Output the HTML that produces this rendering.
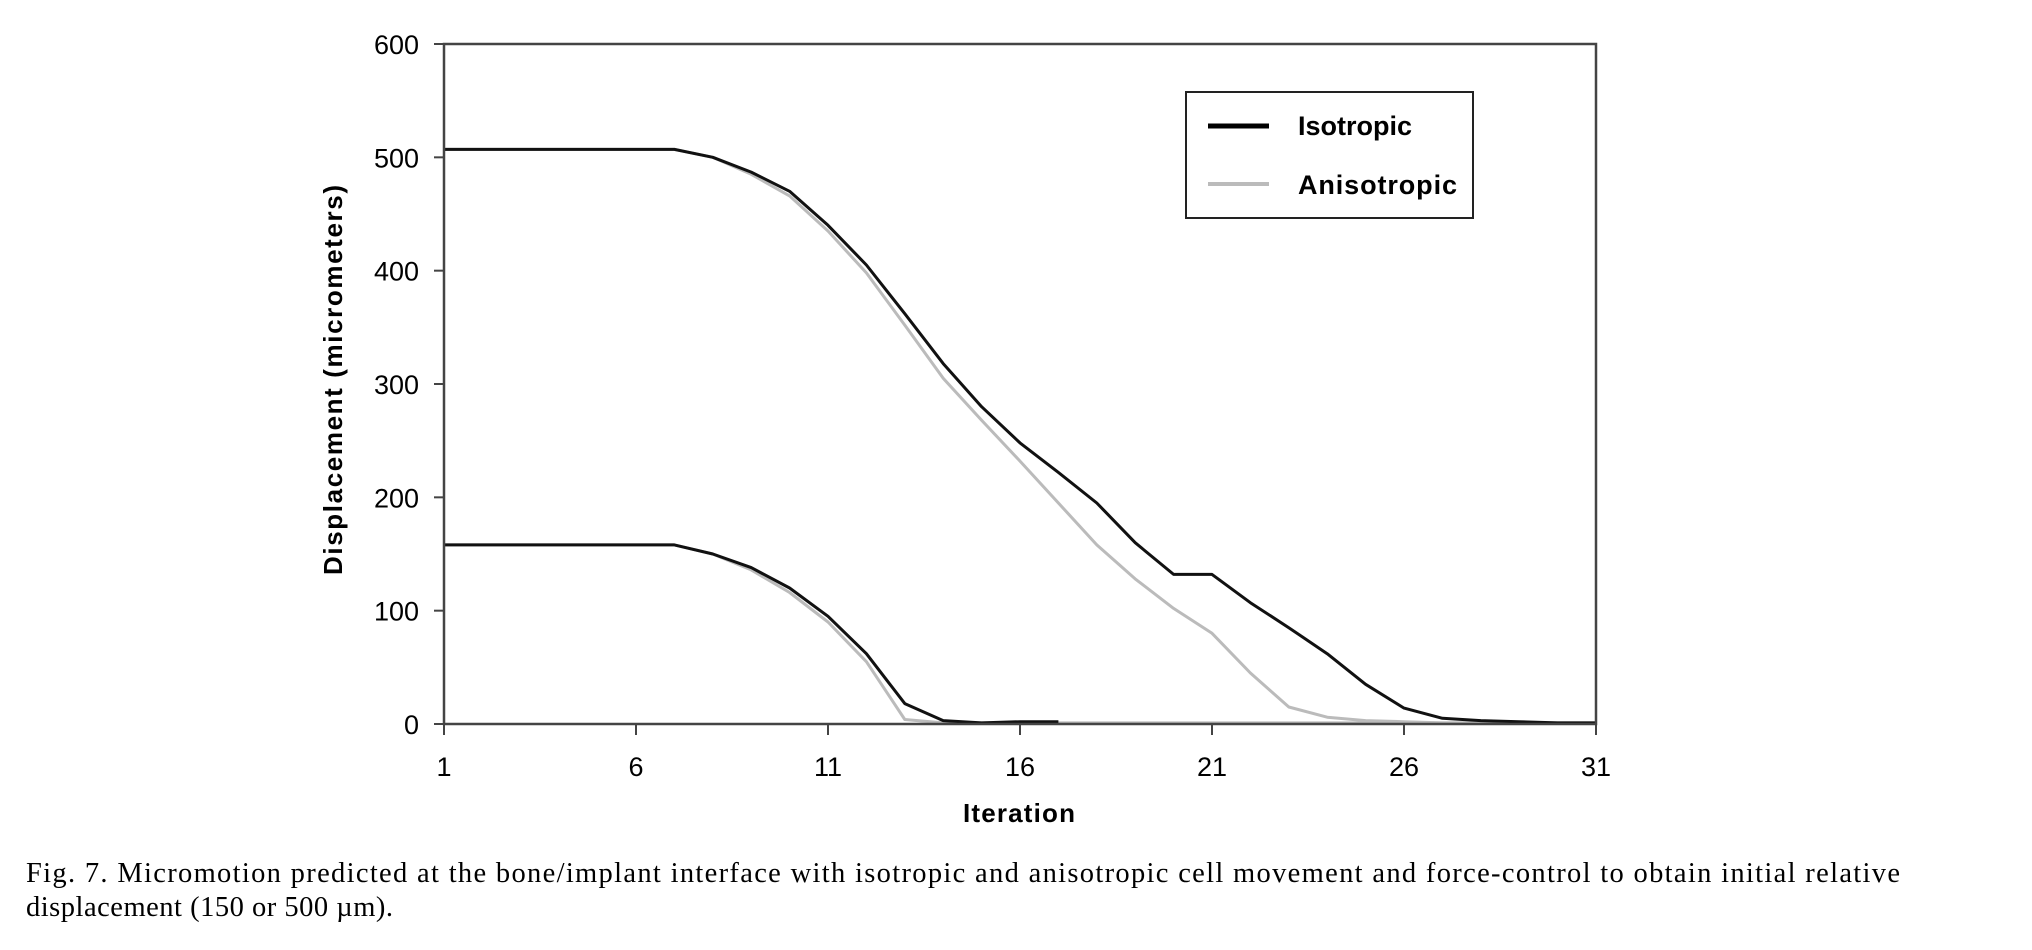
<!DOCTYPE html>
<html><head><meta charset="utf-8"><style>
html,body{margin:0;padding:0;background:#fff;}
svg{display:block;}
</style></head><body>
<svg id="chart" width="2032" height="950" viewBox="0 0 2032 950" xmlns="http://www.w3.org/2000/svg">
<g id="marks"></g>
<g>
<rect x="1186" y="92" width="287" height="126" fill="#fff" stroke="#222" stroke-width="2"/>
<line x1="1208" y1="126" x2="1269" y2="126" stroke="#000" stroke-width="5"/>
<text x="1298" y="135" font-family="Liberation Sans, sans-serif" font-weight="bold" font-size="27">Isotropic</text>
<line x1="1208" y1="184" x2="1269" y2="184" stroke="#bbb" stroke-width="4"/>
<text x="1298" y="194" font-family="Liberation Sans, sans-serif" font-weight="bold" font-size="27" textLength="159">Anisotropic</text>
</g>
<text transform="translate(342,380) rotate(-90)" text-anchor="middle" font-family="Liberation Sans, sans-serif" font-weight="bold" font-size="26" textLength="390">Displacement (micrometers)</text>
<text x="1019" y="822" text-anchor="middle" font-family="Liberation Sans, sans-serif" font-weight="bold" font-size="26" textLength="112">Iteration</text>
<text x="26" y="882" font-family="Liberation Serif, serif" font-size="28.5" textLength="1874">Fig. 7. Micromotion predicted at the bone/implant interface with isotropic and anisotropic cell movement and force-control to obtain initial relative</text>
<text x="26" y="916" font-family="Liberation Serif, serif" font-size="28.5" textLength="367">displacement (150 or 500 µm).</text>
</svg>
<script>
const xTicks = [1, 6, 11, 16, 21, 26, 31];
const yTicks = [0, 100, 200, 300, 400, 500, 600];
const iterations = [1,2,3,4,5,6,7,8,9,10,11,12,13,14,15,16,17,18,19,20,21,22,23,24,25,26,27,28,29,30,31];
const iso500 = [507,507,507,507,507,507,507,500,487,470,440,405,362,318,280,248,222,195,160,132,132,107,85,62,35,14,5,3,2,1,1];
const aniso500 = [507,507,507,507,507,507,507,500,485,466,435,398,352,305,268,232,195,158,128,102,80,45,15,6,3,2,1,1,1,1,1];
const iso150 = [158,158,158,158,158,158,158,150,138,120,95,62,18,3,1,2,2];
const aniso150 = [158,158,158,158,158,158,158,150,136,116,90,55,4,1,1,1,1,1,1,1,1,1,1,1,1,1,1,1,1,1,1];

const X0=444, X1=1596, Y0=724, Y1=44;
function xs(v){return X0+(v-1)/(30)*(X1-X0);}
function ys(v){return Y0-(v/600)*(Y0-Y1);}
const NS='http://www.w3.org/2000/svg';
const g=document.getElementById('marks');
function mk(t,a){const e=document.createElementNS(NS,t);for(const k in a)e.setAttribute(k,a[k]);g.appendChild(e);return e;}

function series(vals,color,w,name){
  const d=vals.map((v,i)=>(i?'L':'M')+xs(iterations[i]).toFixed(1)+','+ys(v).toFixed(1)).join(' ');
  const p=mk('path',{d:d,fill:'none',stroke:color,'stroke-width':w,'stroke-linejoin':'round'});
  
  
}
series(aniso500,'#bbb',3,'line-anisotropic-500');
series(aniso150,'#bbb',3,'line-anisotropic-150');
series(iso500,'#111',3,'line-isotropic-500');
series(iso150,'#111',3,'line-isotropic-150');

const frame=mk('path',{d:`M${X0},${Y1} H${X1} V${Y0} H${X0} Z`,fill:'none',stroke:'#444','stroke-width':2.5});



xTicks.forEach(t=>{
  const l=mk('line',{x1:xs(t),y1:Y0,x2:xs(t),y2:Y0+11,stroke:'#444','stroke-width':2});
  
  
  const tx=mk('text',{x:xs(t),y:776,'text-anchor':'middle','font-family':'Liberation Sans, sans-serif','font-size':27});
  tx.textContent=t;
  
  
});
yTicks.forEach(t=>{
  const l=mk('line',{x1:X0-10,y1:ys(t),x2:X0,y2:ys(t),stroke:'#444','stroke-width':2});
  
  
  const tx=mk('text',{x:419,y:ys(t)+10,'text-anchor':'end','font-family':'Liberation Sans, sans-serif','font-size':27});
  tx.textContent=t;
  
  
});
</script>
</body></html>
